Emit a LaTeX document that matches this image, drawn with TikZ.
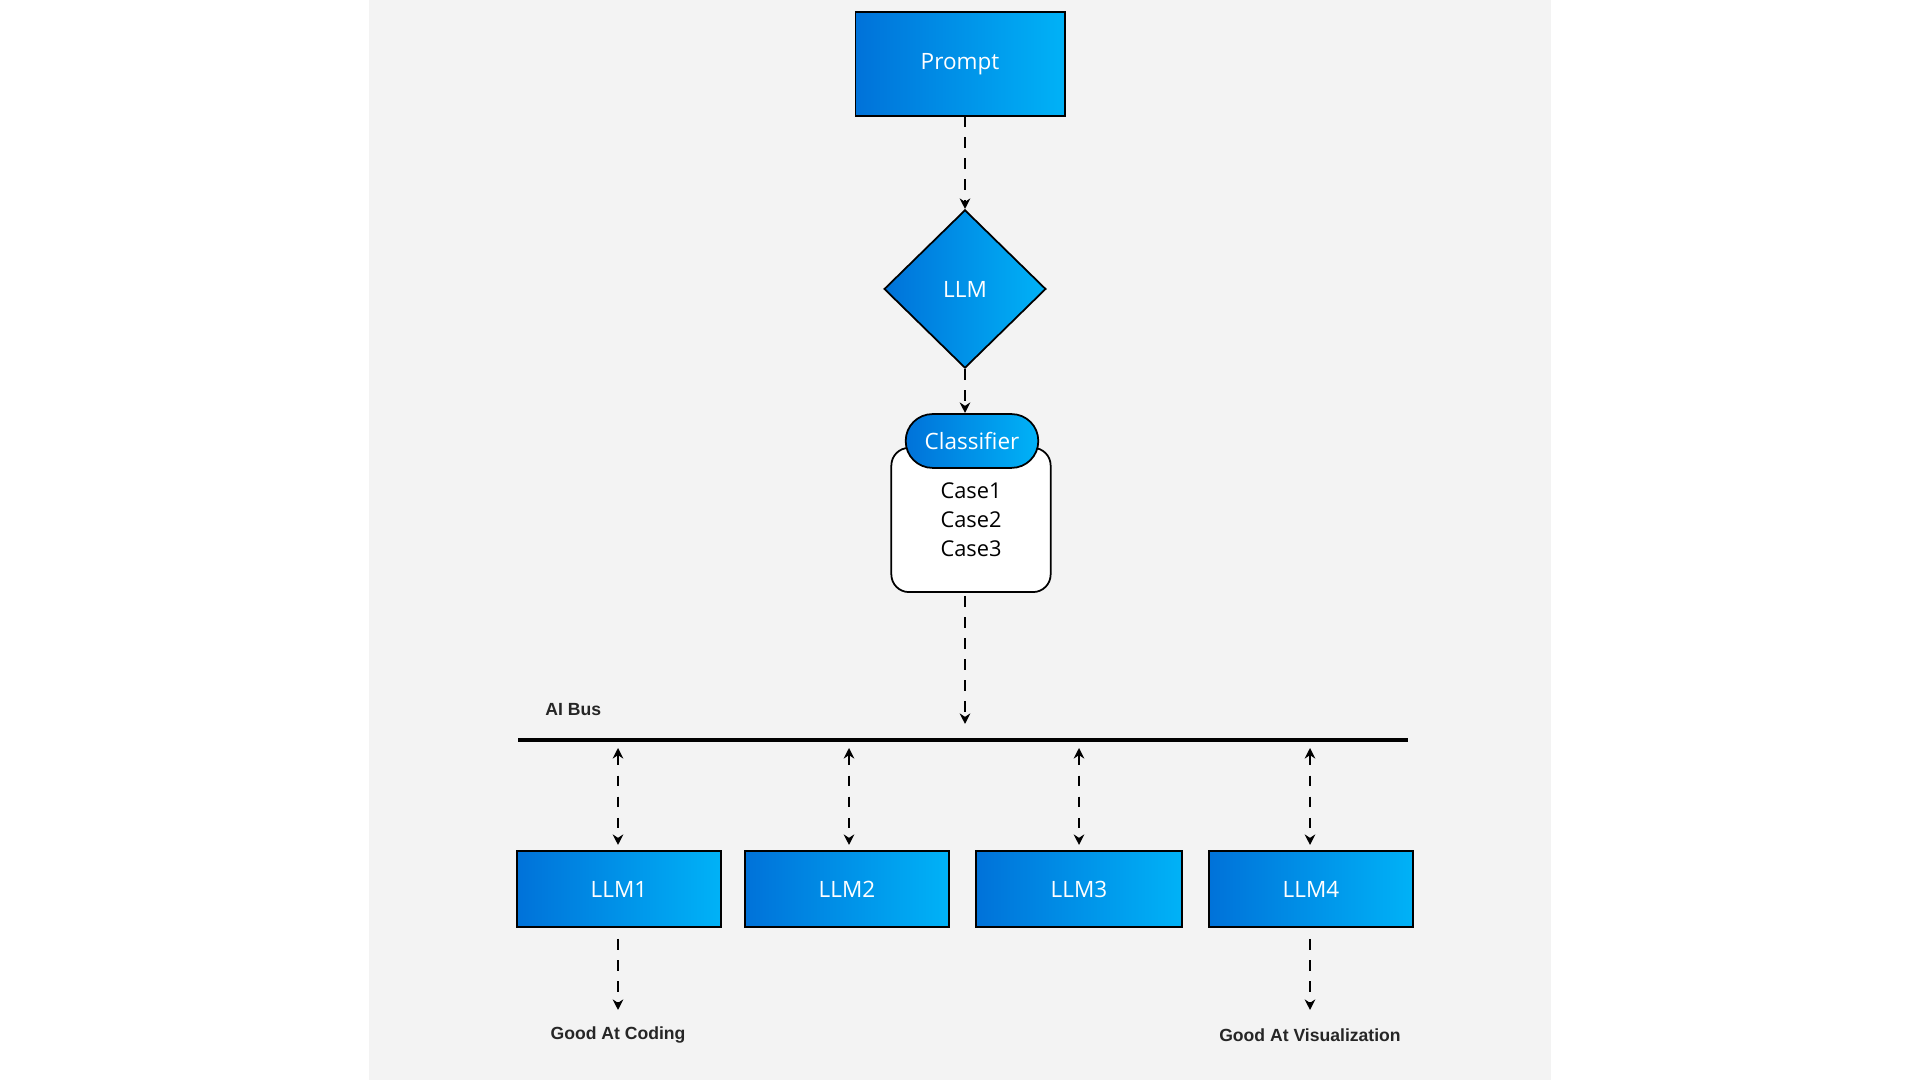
\documentclass[tikz,border=0pt]{standalone}
\usepackage{fontspec}
\setmainfont{Open Sans}
\newfontfamily\lab{Liberation Sans}
\usetikzlibrary{shapes.geometric,arrows.meta}
\definecolor{bl}{HTML}{0072D9}
\definecolor{br}{HTML}{00B2F7}
\definecolor{panel}{HTML}{F3F3F3}
\begin{document}
\begin{tikzpicture}[x=0.01cm,y=-0.01cm,
  blue/.style={draw=black,line width=0.5pt,left color=bl,right color=br,text=white,font=\fontsize{6.4}{7.7}\selectfont},
  conn/.style={line width=0.5pt,dash pattern=on 3pt off 3pt,-{Stealth[length=3pt,width=3pt]}},
  bconn/.style={line width=0.5pt,dash pattern=on 3pt off 3pt,{Stealth[length=3pt,width=3pt]}-{Stealth[length=3pt,width=3pt]}},
  lbl/.style={font=\lab\bfseries\fontsize{5}{6}\selectfont,text=black!85}]
\useasboundingbox (0,0) rectangle (1920,1080);
\fill[white] (0,0) rectangle (1920,1080);
\fill[panel] (369,0) rectangle (1551,1080);
\node[blue,minimum width=210\pgflinewidth*0+59.5pt,minimum height=29.5pt,inner sep=0] (prompt) at (960,64) {Prompt};
\node[blue,diamond,minimum width=46pt,minimum height=45pt,inner sep=0,aspect=1] (llm) at (965,289) {LLM};
\node[draw=black,line width=0.5pt,fill=white,rounded corners=5pt,minimum width=45.3pt,minimum height=41pt,inner sep=0,font=\fontsize{6.2}{7.6}\selectfont,text depth=0] (cases) at (971,520) {};
\node[font=\fontsize{6.2}{8.2}\selectfont,align=center] (ct) at (971,520) {Case1\\Case2\\Case3};
\node[blue,rounded corners=7.6pt,minimum width=37.7pt,minimum height=15.3pt,inner sep=0] (cls) at (972,441) {Classifier};
\coordinate (busL) at (518,740);
\coordinate (busR) at (1408,740);
\draw[line width=1.4pt] (busL) -- (busR);
\node[lbl,anchor=west] (aibus) at (533,710) {AI Bus};
\foreach \n/\x/\w in {1/619/204,2/847/205,3/1079/206,4/1311/205}{
  \node[blue,minimum width=\w*0.2835pt,minimum height=21.5pt,inner sep=0] (m\n) at (\x,889) {LLM\n};
}
\foreach \n/\x in {1/618,2/849,3/1079,4/1310}{
  \coordinate (t\n) at (\x,748);
  \coordinate (b\n) at (\x,845);
  \draw[bconn] (t\n) -- (b\n);
}
\coordinate (pa) at (965,116);
\coordinate (pb) at (965,209);
\draw[conn] (pa) -- (pb);
\coordinate (da) at (965,369);
\coordinate (db) at (965,413);
\draw[conn] (da) -- (db);
\coordinate (ca) at (965,596);
\coordinate (cb) at (965,724);
\draw[conn] (ca) -- (cb);
\coordinate (g1a) at (618,939);
\coordinate (g1b) at (618,1010);
\draw[conn] (g1a) -- (g1b);
\coordinate (g4a) at (1310,939);
\coordinate (g4b) at (1310,1010);
\draw[conn] (g4a) -- (g4b);
\node[lbl] (gc) at (618,1035) {Good At Coding};
\node[lbl] (gv) at (1310,1035) {Good At Visualization};
\end{tikzpicture}
\end{document}
